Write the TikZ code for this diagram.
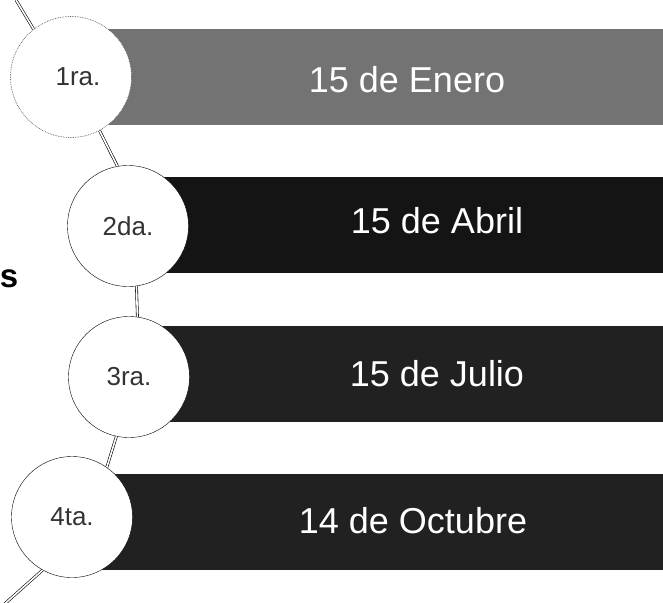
\documentclass[tikz,border=0pt]{standalone}
\usepackage{fontspec}
\setmainfont{Liberation Sans}

\begin{document}
\begin{tikzpicture}[x=1pt,y=-1pt,
  bar/.style={anchor=west,minimum width=600pt,minimum height=96pt,inner sep=0pt},
  round/.style={circle,draw,fill=white,minimum size=121pt,inner sep=0pt,text=black!80,font=\fontsize{26}{28}\selectfont},
  date/.style={text=white,font=\fontsize{36}{40}\selectfont},
  pipe/.style={double,double distance=1.6pt,line width=0.6pt}]

\useasboundingbox (0,0) rectangle (663,602);

\node[bar,fill=black!55] (b1) at (71,77) {};
\node[bar,fill=black!92] (b2) at (128,224.5) {};
\node[bar,fill=black!87] (b3) at (129,373.5) {};
\node[bar,fill=black!87] (b4) at (72,522) {};

\node[date] (d1) at (407,80) {15 de Enero};
\node[date] (d2) at (437,221) {15 de Abril};
\node[date] (d3) at (437,374) {15 de Julio};
\node[date] (d4) at (413,521) {14 de Octubre};

\node[round,draw=black!65,densely dotted,line width=0.7pt] (c1) at (71,77) {\hspace{14pt}1ra.};
\node[round] (c2) at (128,226) {2da.};
\node[round] (c3) at (129,377) {3ra.};
\node[round] (c4) at (72,517) {4ta.};

\node[font=\bfseries\fontsize{33}{36}\selectfont] (s) at (9,279) {s};

\coordinate (top) at (16,0);
\coordinate (bot) at (0,608);

\draw[pipe]  (top) -- (c1.128);
\draw[pipe]  (c1.-62) -- (c2.100);
\draw[pipe]  (c2.-82) -- (c3.82);
\draw[pipe]  (c3.-102) -- (c4.55);
\draw[pipe]  (c4.-119) -- (bot);

\end{tikzpicture}
\end{document}
